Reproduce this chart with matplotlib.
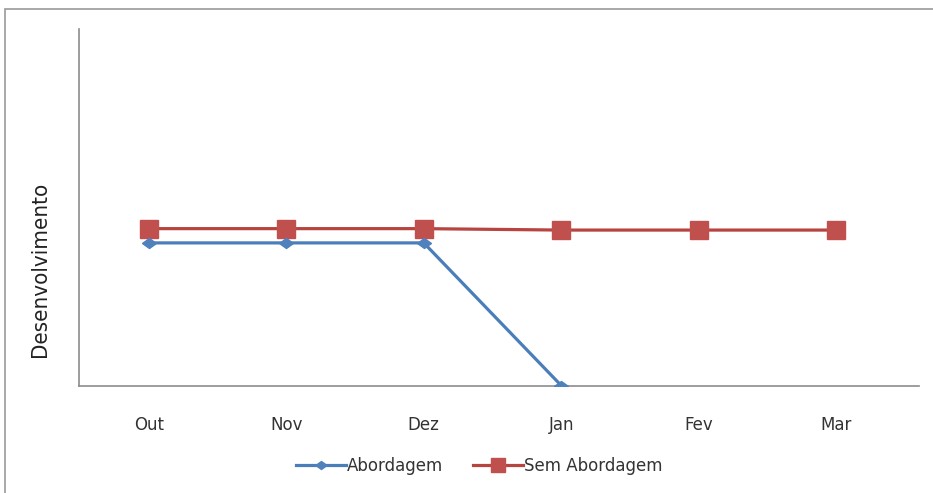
import numpy as np
import matplotlib.pyplot as plt
from matplotlib.patches import Rectangle

meses = ["Out", "Nov", "Dez", "Jan", "Fev", "Mar"]
abordagem = [2.0, 2.0, 2.0, 0.0]
sem_abordagem = [2.2, 2.2, 2.2, 2.18, 2.18, 2.18]

azul = "#4A7EBB"
vermelho = "#B7443F"

fig = plt.figure(figsize=(9.33, 4.93), dpi=100)
# moldura do grafico
fig.patches.append(Rectangle((5 / 933, -0.05), 1.1, 1 - 8.5 / 493 + 0.05,
                             transform=fig.transFigure, fill=False,
                             edgecolor="#9a9a9a", linewidth=1.2))

ax = fig.add_axes([79 / 933, 1 - 385.5 / 493, (919 - 79) / 933, (385.5 - 29) / 493])

losango = [(-1, 0), (0, 0.72), (1, 0), (0, -0.72), (-1, 0)]
x = np.arange(len(meses))
ax.plot(x[:len(abordagem)], abordagem, color=azul, lw=2.3, marker=losango,
        markersize=10, markerfacecolor="#4F81BD", markeredgecolor="#4F81BD",
        label="Abordagem", zorder=3)
ax.plot(x, sem_abordagem, color=vermelho, lw=2.3, marker="s", markersize=12.5,
        markerfacecolor="#C0504D", markeredgecolor="#C0504D",
        label="Sem Abordagem", zorder=2)

ax.set_xlim(-70 / 137.4, 5 + 83 / 137.4)
ax.set_ylim(0, 5)
ax.set_xticks(x)
ax.set_xticklabels(meses, fontsize=12, color="#333333")
ax.set_yticks([])
ax.tick_params(axis="x", length=0, pad=22)
for s in ["top", "right"]:
    ax.spines[s].set_visible(False)
for s in ["left", "bottom"]:
    ax.spines[s].set_color("#8c8c8c")
    ax.spines[s].set_linewidth(1.2)

fig.text(40 / 933, 1 - 269 / 493, "Desenvolvimento", rotation=90,
         ha="center", va="center", fontsize=16, fontstretch="condensed",
         family=["DejaVu Sans"], color="#222222")

leg = fig.legend(loc="center", bbox_to_anchor=(479 / 933, 1 - 466 / 493), ncol=2,
                 frameon=False, fontsize=12, handlelength=3.0, handletextpad=0.05,
                 columnspacing=1.8, markerscale=0.8)
for t in leg.get_texts():
    t.set_color("#333333")

fig.savefig("out.png", dpi=100)
